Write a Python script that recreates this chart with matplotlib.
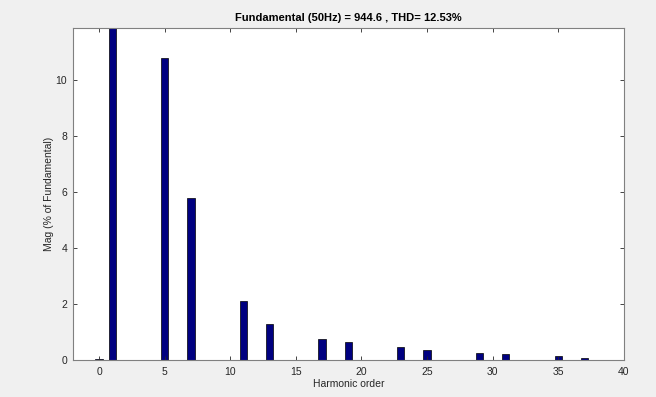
import matplotlib.pyplot as plt

# harmonic spectrum, % of fundamental
orden = [0, 1, 5, 7, 11, 13, 17, 19, 23, 25, 29, 31, 35, 37]
magnitud = [0.05, 100, 10.78, 5.8, 2.1, 1.3, 0.74, 0.63, 0.45, 0.35, 0.24, 0.22, 0.14, 0.09]

plt.rcParams['font.family'] = ['Liberation Sans', 'DejaVu Sans']

fig = plt.figure(figsize=(6.56, 3.97), dpi=100, facecolor='#f0f0f0')
ax = fig.add_axes([0.111, 0.093, 0.840, 0.836])

ax.bar(orden, magnitud, width=0.55, color='#000080', edgecolor='black', linewidth=0.5)

ax.set_xlim(-2, 40)
ax.set_ylim(0, 11.86)
ax.set_xticks(range(0, 41, 5))
ax.set_yticks(range(0, 11, 2))

gris = '#262626'
ax.tick_params(direction='in', top=True, right=True, labelsize=7.5, colors=gris, length=3, width=0.6)
ax.tick_params(axis='x', pad=5)
ax.tick_params(axis='y', pad=4)
for s in ax.spines.values():
    s.set_color('#808080')
    s.set_linewidth(0.8)

ax.set_xlabel('Harmonic order', fontsize=7.5, color=gris)
ax.set_ylabel('Mag (% of Fundamental)', fontsize=7.5, color=gris)
ax.xaxis.set_label_coords(0.5, -0.058)
ax.yaxis.set_label_coords(-0.034, 0.5)
ax.set_title('Fundamental (50Hz) = 944.6 , THD= 12.53%', fontsize=8, fontweight='bold', color='black', pad=5)

fig.savefig('out.png', dpi=100, facecolor=fig.get_facecolor())
